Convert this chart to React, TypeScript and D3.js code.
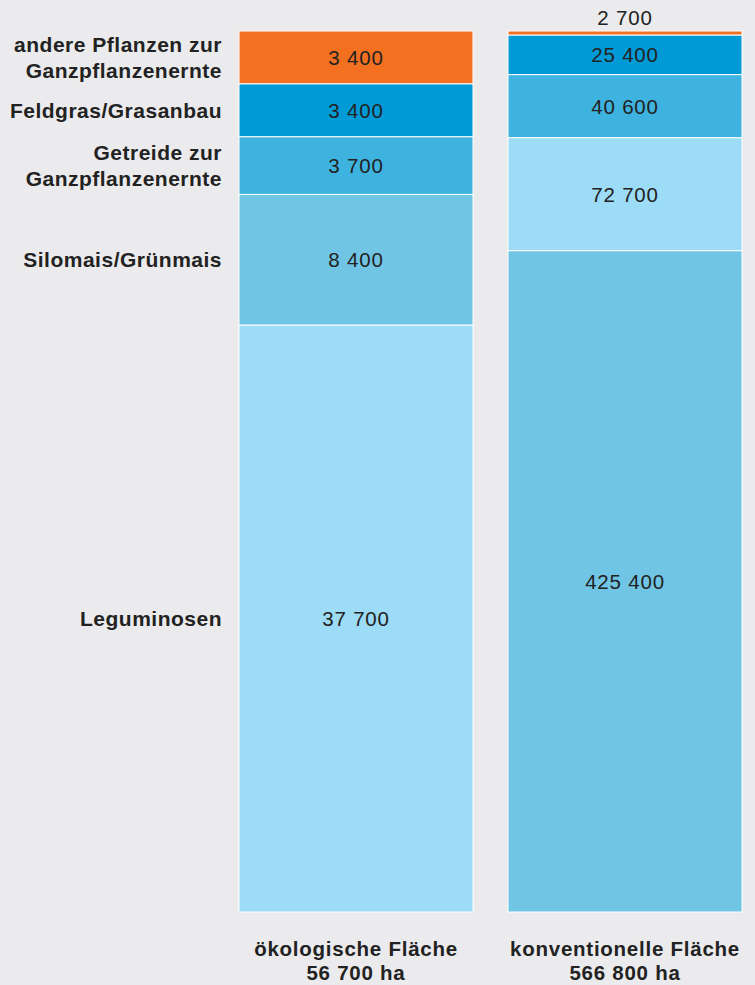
import * as d3 from "d3";

const categories = [
  "andere Pflanzen zur Ganzpflanzenernte",
  "Feldgras/Grasanbau",
  "Getreide zur Ganzpflanzenernte",
  "Silomais/Grünmais",
  "Leguminosen",
];
const categoryLines = [
  ["andere Pflanzen zur", "Ganzpflanzenernte"],
  ["Feldgras/Grasanbau"],
  ["Getreide zur", "Ganzpflanzenernte"],
  ["Silomais/Grünmais"],
  ["Leguminosen"],
];
const colors = ["#f37021", "#009bd6", "#3eb3df", "#70c5e5", "#9ddcf7"];

const bars = ["ökologische Fläche", "konventionelle Fläche"];
const barTotals = ["56 700 ha", "566 800 ha"];
const oekoValues = [3400, 3400, 3700, 8400, 37700];
const konvValues = [2700, 25400, 40600, 425400, 72700];
// stacking order, top to bottom (category indices)
const oekoOrder = [0, 1, 2, 3, 4];
const konvOrder = [0, 1, 2, 4, 3];

const W = 755;
const H = 985;
const top = 31;
const bottom = 912;
const font = "'Liberation Sans', Arial, Helvetica, sans-serif";
const fmt = (v: number) => d3.format(",")(v).replace(/,/g, " ");

function stack(values: number[], order: number[]) {
  let acc = 0;
  return order.map((ci) => {
    const s = { ci, v: values[ci], y0: acc, y1: acc + values[ci] };
    acc += values[ci];
    return s;
  });
}

export default function App() {
  const x = d3.scaleBand(bars, [239, 742]).paddingInner(35 / 269).paddingOuter(0);
  const series = [stack(oekoValues, oekoOrder), stack(konvValues, konvOrder)];
  const totals = [d3.sum(oekoValues), d3.sum(konvValues)];
  const ys = totals.map((t) => d3.scaleLinear([0, t], [top, bottom]));
  const yL = ys[0];

  return (
    <div style={{ position: "absolute", left: 0, top: 0 }}>
      <svg width={W} height={H} style={{ display: "block" }} fontFamily={font}>
        <rect width={W} height={H} fill="#ebebed" />
        {series.map((segs, bi) => {
          const bx = x(bars[bi])!;
          const bw = x.bandwidth();
          const y = ys[bi];
          const cx = bx + bw / 2;
          return (
            <g key={bi}>
              {segs.map((s) => {
                const y0 = y(s.y0);
                const y1 = y(s.y1);
                const h = y1 - y0;
                const small = h < 20;
                return (
                  <g key={s.ci}>
                    <rect x={bx} y={y0} width={bw} height={h} fill={colors[s.ci]} stroke="#fff" strokeWidth={1} />
                    <text
                      x={cx}
                      y={small ? y0 - 6 : (y0 + y1) / 2 + 7.5}
                      textAnchor="middle"
                      fontSize={20.5}
                      letterSpacing={0.8}
                      fill="#222"
                    >
                      {fmt(s.v)}
                    </text>
                  </g>
                );
              })}
              <text textAnchor="middle" fontSize={20.5} fontWeight="bold" letterSpacing={0.75} fill="#222">
                <tspan x={cx} y={956}>{bars[bi]}</tspan>
                <tspan x={cx} y={980}>{barTotals[bi]}</tspan>
              </text>
            </g>
          );
        })}
        {series[0].map((s) => {
          const lines = categoryLines[s.ci];
          const cy = (yL(s.y0) + yL(s.y1)) / 2;
          return (
            <text key={s.ci} textAnchor="end" fontSize={21} fontWeight="bold" letterSpacing={0.5} fill="#222">
              <title>{categories[s.ci]}</title>
              {lines.map((l, i) => (
                <tspan key={i} x={222} y={cy + 7.5 + (i - (lines.length - 1) / 2) * 26}>
                  {l}
                </tspan>
              ))}
            </text>
          );
        })}
      </svg>
    </div>
  );
}
